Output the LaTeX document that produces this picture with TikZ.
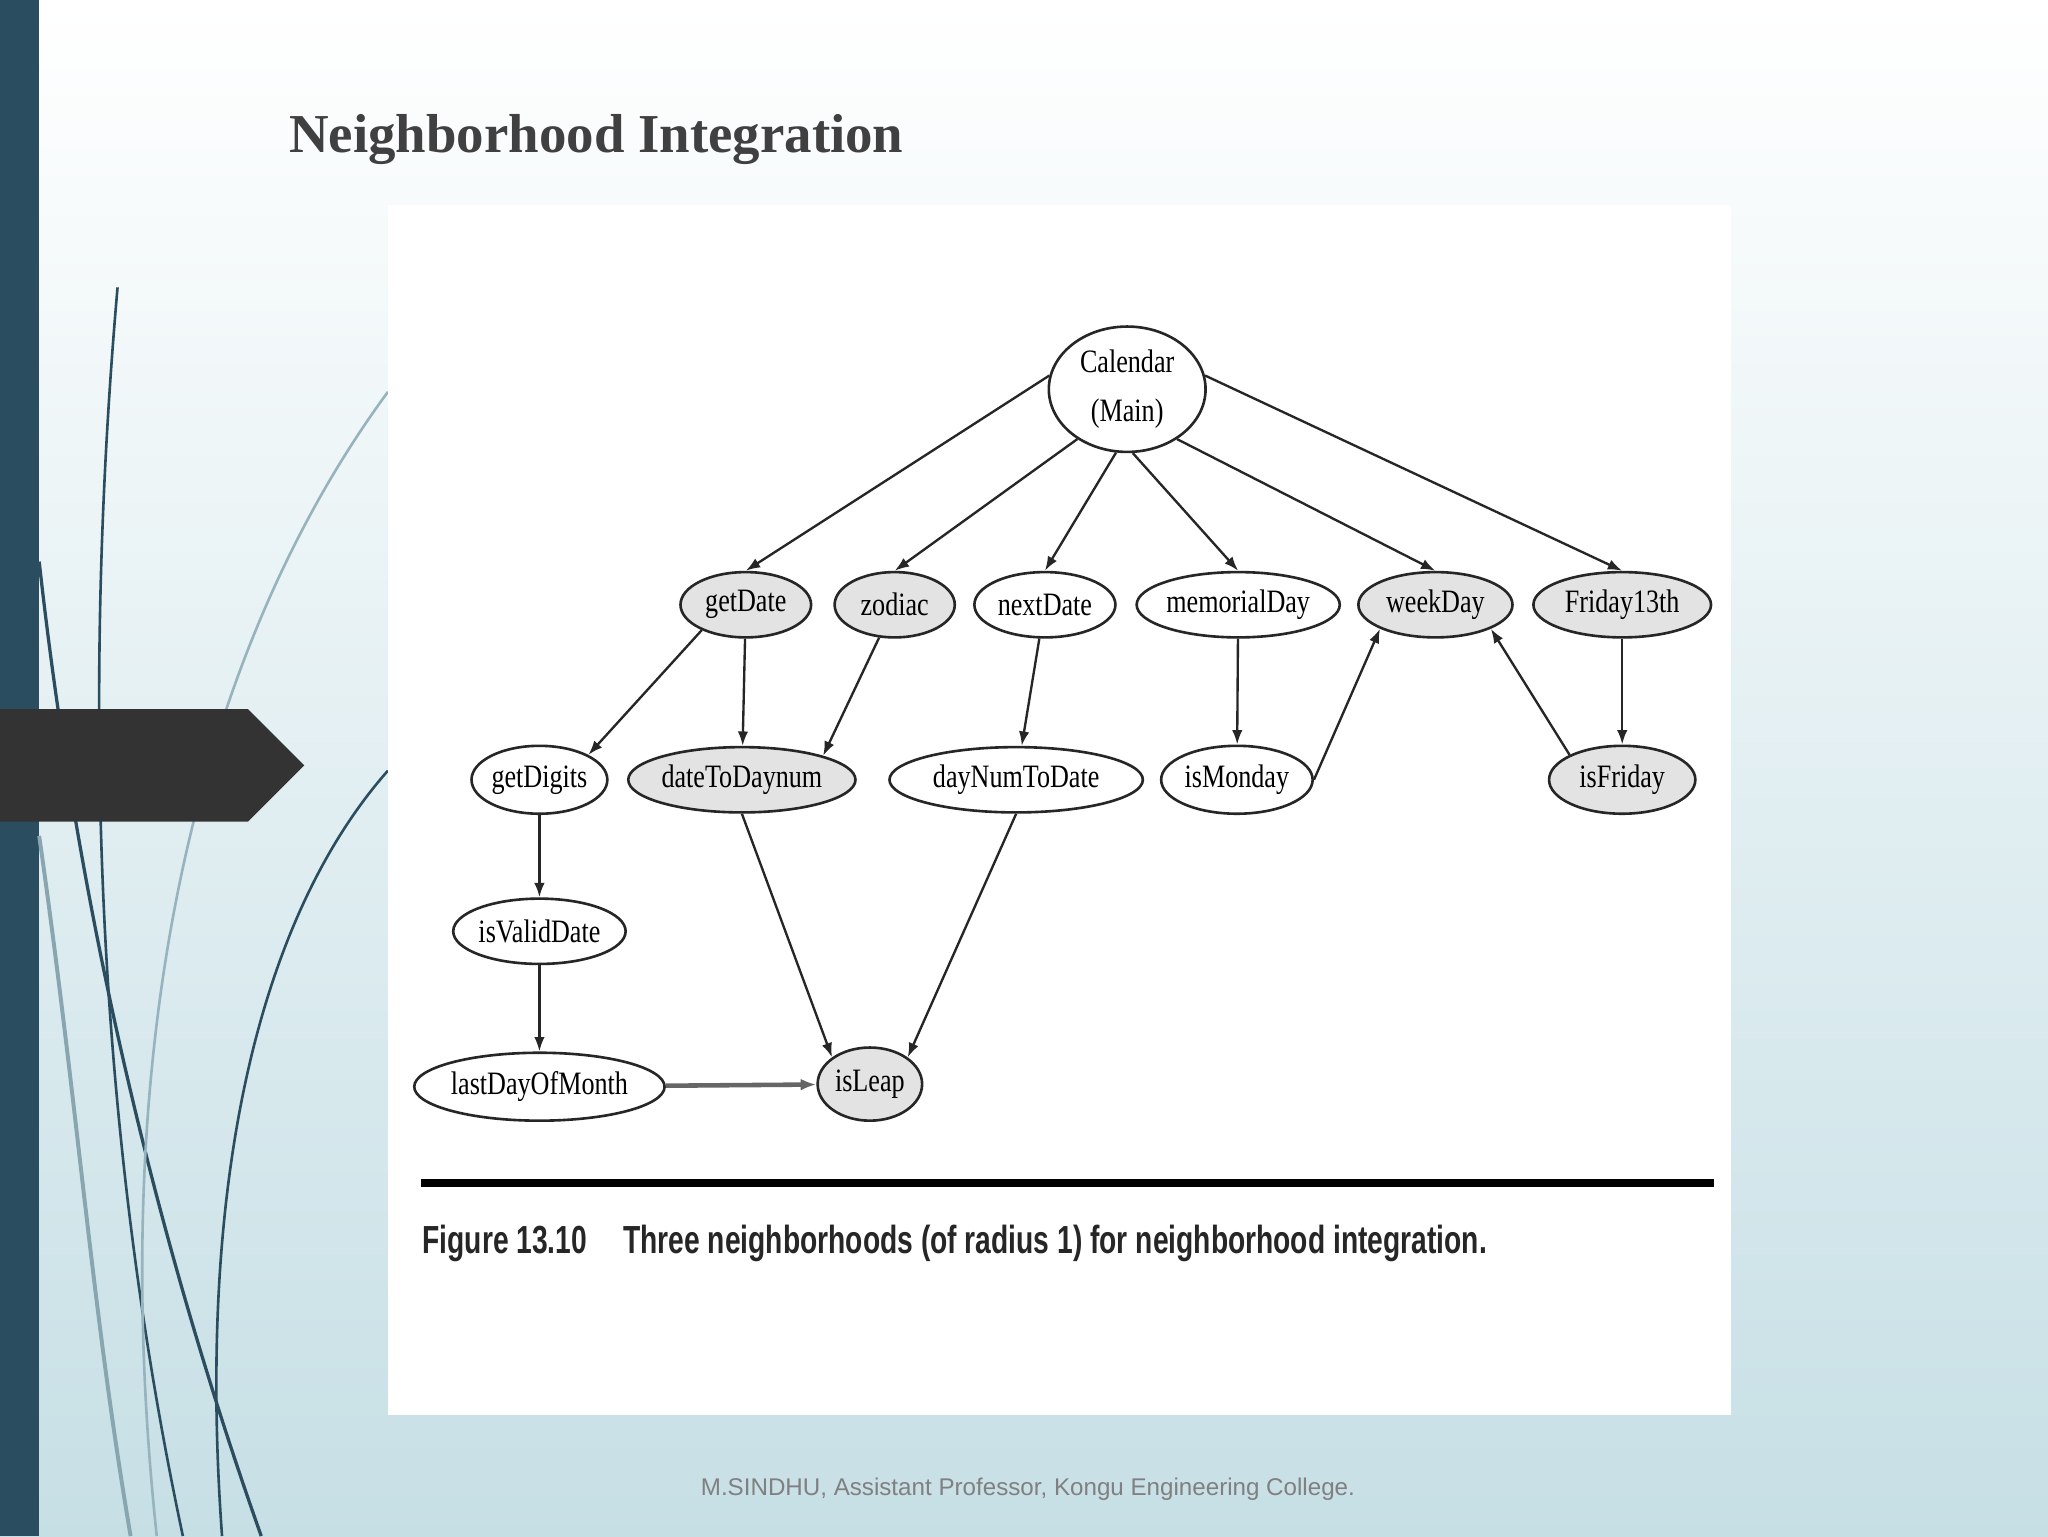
\documentclass[tikz,border=0pt]{standalone}
\usepackage{fontspec}
\setmainfont{Liberation Serif}
\setsansfont{Liberation Sans}
\usetikzlibrary{shapes.geometric,arrows.meta}
\definecolor{bar}{HTML}{2B4D60}
\definecolor{bgtop}{HTML}{FFFFFF}
\definecolor{bgbot}{HTML}{C6DFE5}
\definecolor{nodegray}{HTML}{E3E3E3}
\begin{document}
\begin{tikzpicture}[x=1pt,y=-1pt,
  nd/.style={ellipse,draw=black!85,line width=2pt,inner sep=0pt,font=\fontsize{25}{27}\selectfont},
  wh/.style={nd,fill=white},
  gr/.style={nd,fill=nodegray},
  ar/.style={-{Latex[length=11pt,width=8pt]},line width=1.8pt,black!85}]
\useasboundingbox (0,0) rectangle (1568,1176);
\shade[top color=bgtop,bottom color=bgbot] (0,0) rectangle (1568,1176);
\fill[bar] (0,0) rectangle (30,1176);
% decorative curves
\draw[bar,line width=2.5pt] (30,430) .. controls (60,700) and (120,950) .. (200,1176);
\draw[bar,line width=2pt] (90,220) .. controls (70,450) and (60,800) .. (140,1176);
\draw[bar,line width=2pt] (297,590) .. controls (200,700) and (150,900) .. (170,1176);
\draw[bgbot!70!bar,line width=2pt] (297,300) .. controls (150,500) and (80,800) .. (120,1176);
\draw[bgbot!60!bar,line width=3pt] (30,640) .. controls (60,850) and (70,1000) .. (100,1176);
\fill[black!80] (0,543) -- (190,543) -- (233,586) -- (190,629) -- (0,629) -- cycle;
\node[anchor=west,font=\bfseries\fontsize{42}{46}\selectfont,text=black!75] (title) at (218,107) {Neighborhood Integration};
\fill[white] (297,157) rectangle (1325,1083);
% nodes
\node[wh,minimum width=120pt,minimum height=96pt,align=center,font=\fontsize{25}{38}\selectfont] (cal) at (863,298) {\scalebox{0.8}[1]{Calendar}\\\scalebox{0.8}[1]{(Main)}};
\node[gr,minimum width=100pt,minimum height=50pt] (getDate) at (571,463) {\scalebox{0.8}[1]{getDate}};
\node[gr,minimum width=92pt,minimum height=50pt] (zodiac) at (685,463) {\scalebox{0.8}[1]{zodiac}};
\node[wh,minimum width=108pt,minimum height=50pt] (nextDate) at (800,463) {\scalebox{0.8}[1]{nextDate}};
\node[wh,minimum width=152pt,minimum height=50pt] (memorialDay) at (948,463) {\scalebox{0.8}[1]{memorialDay}};
\node[gr,minimum width=118pt,minimum height=50pt] (weekDay) at (1099,463) {\scalebox{0.8}[1]{weekDay}};
\node[gr,minimum width=136pt,minimum height=50pt] (fri13) at (1242,463) {\scalebox{0.8}[1]{Friday13th}};
\node[wh,minimum width=104pt,minimum height=52pt] (getDigits) at (413,597) {\scalebox{0.8}[1]{getDigits}};
\node[gr,minimum width=170pt,minimum height=50pt] (d2d) at (568,597) {\scalebox{0.8}[1]{dateToDaynum}};
\node[wh,minimum width=194pt,minimum height=50pt] (dn2d) at (778,597) {\scalebox{0.8}[1]{dayNumToDate}};
\node[wh,minimum width=116pt,minimum height=52pt] (isMonday) at (947,597) {\scalebox{0.8}[1]{isMonday}};
\node[gr,minimum width=112pt,minimum height=52pt] (isFriday) at (1242,597) {\scalebox{0.8}[1]{isFriday}};
\node[wh,minimum width=132pt,minimum height=50pt] (isValid) at (413,713) {\scalebox{0.8}[1]{isValidDate}};
\node[wh,minimum width=182pt,minimum height=52pt] (lastDay) at (413,832) {\scalebox{0.8}[1]{lastDayOfMonth}};
\node[gr,minimum width=80pt,minimum height=56pt] (isLeap) at (666,830) {\scalebox{0.8}[1]{isLeap}};
% edges
\draw[ar] (cal.170) -- (getDate.north);
\draw[ar] (cal.225) -- (zodiac.north);
\draw[ar] (cal.260) -- (nextDate.north);
\draw[ar] (cal.275) -- (memorialDay.north);
\draw[ar] (cal.315) -- (weekDay.north);
\draw[ar] (cal.10) -- (fri13.north);
\draw[ar] (getDate.210) -- (getDigits.north east);
\draw[ar] (getDate) -- (d2d);
\draw[ar] (zodiac) -- (d2d.north east);
\draw[ar] (nextDate) -- (dn2d);
\draw[ar] (memorialDay) -- (isMonday);
\draw[ar] (isMonday.east) -- (weekDay.south west);
\draw[ar] (isFriday.north west) -- (weekDay.south east);
\draw[ar] (fri13) -- (isFriday);
\draw[ar] (getDigits) -- (isValid);
\draw[ar] (isValid) -- (lastDay);
\draw[ar] (d2d.south) -- (isLeap.north west);
\draw[ar] (dn2d.south) -- (isLeap.north east);
\draw[-{Latex[length=12pt,width=9pt]},line width=3.5pt,black!60] (lastDay) -- (isLeap);
% caption
\draw[line width=6pt] (322,906) -- (1312,906);
\node[anchor=west,font=\sffamily\bfseries\fontsize{30}{32}\selectfont,text=black!85] (cap) at (320,952) {\scalebox{0.72}[1]{Figure 13.10\quad\ Three neighborhoods (of radius 1) for neighborhood integration.}};
\node[font=\sffamily\fontsize{18.5}{20}\selectfont,text=black!50] (foot) at (787,1140) {M.SINDHU, Assistant Professor, Kongu Engineering College.};
\end{tikzpicture}
\end{document}
